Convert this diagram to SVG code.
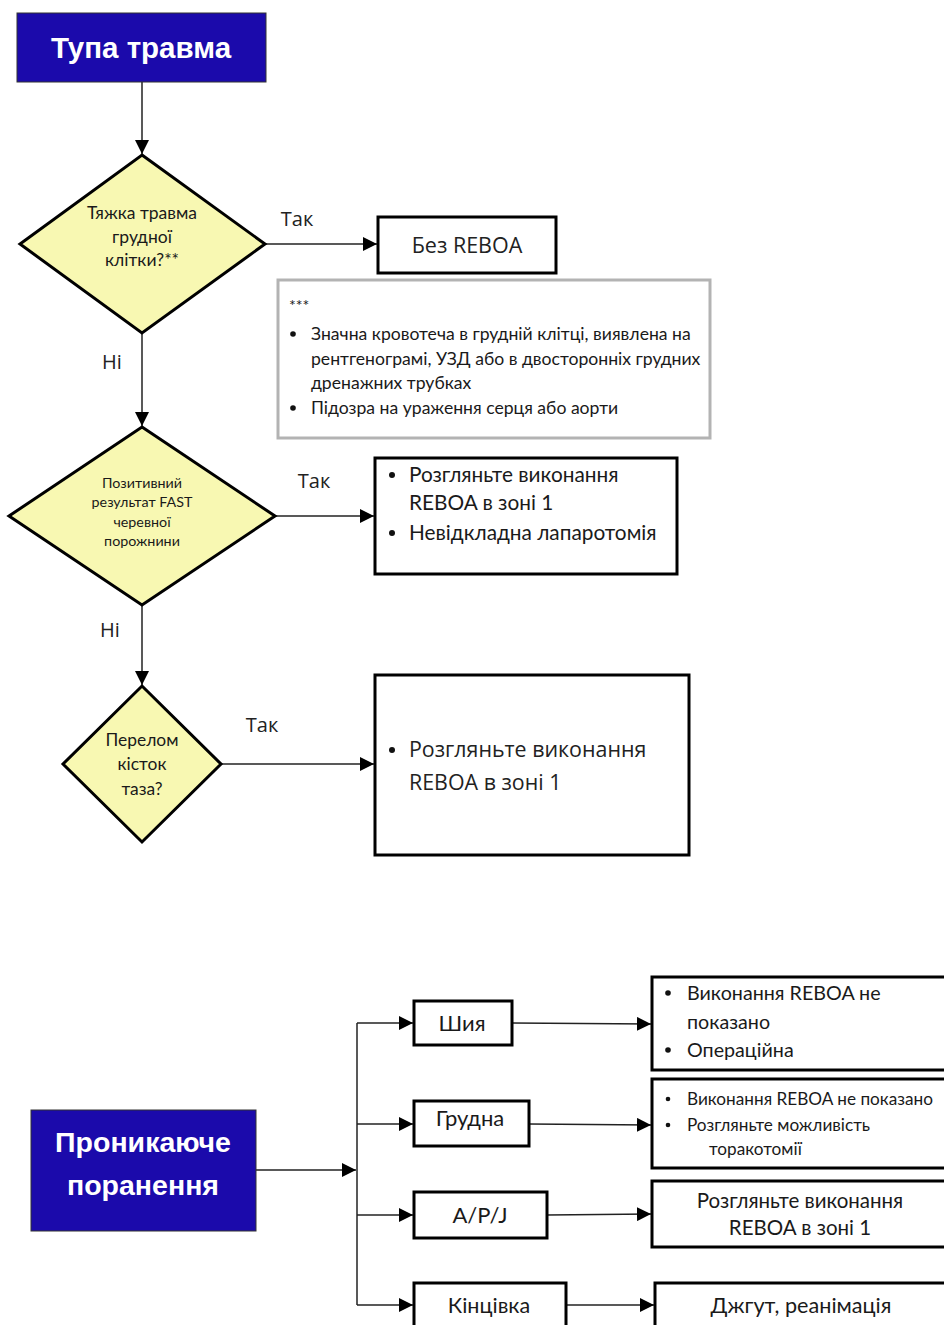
<svg xmlns="http://www.w3.org/2000/svg" width="944" height="1325" viewBox="0 0 944 1325">
<style>
.bg{fill:#fff}
.head{fill:#1b0aab;stroke:#333;stroke-width:1}
.ht{fill:#fff;font-family:"Liberation Sans",Arial,sans-serif;font-weight:bold;text-anchor:middle}
.dia{fill:#f8f8b2;stroke:#000;stroke-width:3;stroke-linejoin:miter}
.box{fill:#fff;stroke:#000;stroke-width:3}
.note{fill:#fff;stroke:#b3b3b3;stroke-width:3}
.t{font-family:Lato,"Open Sans","Noto Sans",sans-serif;fill:#1a1a1a}
.c{text-anchor:middle}
.lbl{font-family:"Open Sans","Noto Sans",sans-serif;fill:#222}
.ln{fill:none;stroke:#222;stroke-width:1.5}
</style>
<defs>
<marker id="ah" viewBox="0 0 10 10" refX="10" refY="5" markerWidth="14" markerHeight="14" markerUnits="userSpaceOnUse" orient="auto">
<path d="M0,0L10,5L0,10z" fill="#000"/>
</marker>
</defs>
<rect class="bg" width="944" height="1325"/>

<g id="connectors">
<path class="ln" d="M142,82V154" marker-end="url(#ah)"/>
<path class="ln" d="M265,244H377" marker-end="url(#ah)"/>
<path class="ln" d="M142,333V426" marker-end="url(#ah)"/>
<path class="ln" d="M275,516H374" marker-end="url(#ah)"/>
<path class="ln" d="M142,605V685" marker-end="url(#ah)"/>
<path class="ln" d="M221,764H374" marker-end="url(#ah)"/>
<path class="ln" d="M256,1170H356" marker-end="url(#ah)"/>
<path class="ln" d="M357,1023V1305"/>
<path class="ln" d="M357,1023H413" marker-end="url(#ah)"/>
<path class="ln" d="M357,1124H413" marker-end="url(#ah)"/>
<path class="ln" d="M357,1215H413" marker-end="url(#ah)"/>
<path class="ln" d="M357,1305H413" marker-end="url(#ah)"/>
<path class="ln" d="M512,1023L651,1024" marker-end="url(#ah)"/>
<path class="ln" d="M529,1124L651,1125" marker-end="url(#ah)"/>
<path class="ln" d="M547,1215L651,1214" marker-end="url(#ah)"/>
<path class="ln" d="M566,1305H654" marker-end="url(#ah)"/>
<text class="lbl" font-size="20" x="297" y="226" text-anchor="middle">Так</text>
<text class="lbl" font-size="20" x="112" y="369" text-anchor="middle">Ні</text>
<text class="lbl" font-size="20" x="314" y="488" text-anchor="middle">Так</text>
<text class="lbl" font-size="20" x="110" y="637" text-anchor="middle">Ні</text>
<text class="lbl" font-size="20" x="262" y="732" text-anchor="middle">Так</text>
</g>

<g id="blunt">
<rect class="head" x="17" y="13" width="249" height="69"/>
<text class="ht" font-size="29.5" x="141" y="58">Тупа травма</text>
</g>

<g id="d1">
<path class="dia" d="M142,155L265,244L142,333L20,244z"/>
<text class="t c" font-size="17.5" x="142" y="219">Тяжка травма</text>
<text class="t c" font-size="17.5" x="142" y="243">грудної</text>
<text class="t c" font-size="17.5" x="142" y="266">клітки?**</text>
</g>

<g id="noreboa">
<rect class="box" x="378" y="217" width="178" height="56"/>
<text class="lbl" font-size="21.5" x="467" y="253" text-anchor="middle">Без REBOA</text>
</g>

<g id="note">
<rect class="note" x="278" y="280" width="432" height="158"/>
<text class="t" font-size="16" x="289" y="311">***</text>
<circle cx="293" cy="334" r="2.8" fill="#111"/>
<text class="t" font-size="17.6" x="311" y="340">Значна кровотеча в грудній клітці, виявлена на</text>
<text class="t" font-size="17.6" x="311" y="365">рентгенограмі, УЗД або в двосторонніх грудних</text>
<text class="t" font-size="17.6" x="311" y="389">дренажних трубках</text>
<circle cx="293" cy="408" r="2.8" fill="#111"/>
<text class="t" font-size="17.6" x="311" y="414">Підозра на ураження серця або аорти</text>
</g>

<g id="d2">
<path class="dia" d="M142,427L275,516L142,605L9,516z"/>
<text class="t c" font-size="14.3" x="142" y="488">Позитивний</text>
<text class="t c" font-size="14.3" x="142" y="507">результат FAST</text>
<text class="t c" font-size="14.3" x="142" y="527">черевної</text>
<text class="t c" font-size="14.3" x="142" y="546">порожнини</text>
</g>

<g id="fastbox">
<rect class="box" x="375" y="458" width="302" height="116"/>
<circle cx="392" cy="475" r="3" fill="#111"/>
<text class="t" font-size="20.8" x="409" y="482">Розгляньте виконання</text>
<text class="t" font-size="20.8" x="409" y="510">REBOA в зоні 1</text>
<circle cx="392" cy="533" r="3" fill="#111"/>
<text class="t" font-size="20.8" x="409" y="540">Невідкладна лапаротомія</text>
</g>

<g id="d3">
<path class="dia" d="M142,686L221,764L142,842L63,764z"/>
<text class="t c" font-size="17.4" x="142" y="746">Перелом</text>
<text class="t c" font-size="17.4" x="142" y="770">кісток</text>
<text class="t c" font-size="17.4" x="142" y="795">таза?</text>
</g>

<g id="pelvbox">
<rect class="box" x="375" y="675" width="314" height="180"/>
<circle cx="392" cy="750" r="3" fill="#111"/>
<text class="lbl" font-size="21.4" x="409" y="757">Розгляньте виконання</text>
<text class="lbl" font-size="21.4" x="409" y="790">REBOA в зоні 1</text>
</g>

<g id="pen">
<rect class="head" x="31" y="1110" width="225" height="121"/>
<text class="ht" font-size="28.5" x="143" y="1152">Проникаюче</text>
<text class="ht" font-size="28.5" x="143" y="1195">поранення</text>
</g>

<g id="neck">
<rect class="box" x="414" y="1001" width="98" height="44"/>
<text class="t c" font-size="22" x="462" y="1031">Шия</text>
</g>
<g id="chest">
<rect class="box" x="414" y="1101" width="115" height="45"/>
<text class="t c" font-size="22" x="470" y="1126">Грудна</text>
</g>
<g id="apj">
<rect class="box" x="414" y="1192" width="133" height="46"/>
<text class="t c" font-size="22" x="480" y="1223">A/P/J</text>
</g>
<g id="limb">
<rect class="box" x="414" y="1283" width="152" height="50"/>
<text class="t c" font-size="21.5" x="489" y="1313">Кінцівка</text>
</g>

<g id="neckres">
<rect class="box" x="652" y="977" width="300" height="93"/>
<circle cx="668" cy="993" r="2.8" fill="#111"/>
<text class="t" font-size="19.7" x="687" y="1000">Виконання REBOA не</text>
<text class="t" font-size="19.7" x="687" y="1029">показано</text>
<circle cx="668" cy="1050" r="2.8" fill="#111"/>
<text class="t" font-size="19.7" x="687" y="1057">Операційна</text>
</g>
<g id="chestres">
<rect class="box" x="652" y="1079" width="300" height="89"/>
<circle cx="668" cy="1099" r="2.3" fill="#111"/>
<text class="t" font-size="17.2" x="687" y="1105">Виконання REBOA не показано</text>
<circle cx="668" cy="1125" r="2.3" fill="#111"/>
<text class="t" font-size="17.2" x="687" y="1131">Розгляньте можливість</text>
<text class="t" font-size="17.2" x="709" y="1155">торакотомії</text>
</g>
<g id="apjres">
<rect class="box" x="652" y="1181" width="300" height="66"/>
<text class="t c" font-size="20.5" x="800" y="1208">Розгляньте виконання</text>
<text class="t c" font-size="20.5" x="800" y="1235">REBOA в зоні 1</text>
</g>
<g id="limbres">
<rect class="box" x="655" y="1283" width="297" height="50"/>
<text class="t c" font-size="21.6" x="801" y="1313">Джгут, реанімація</text>
</g>
</svg>
